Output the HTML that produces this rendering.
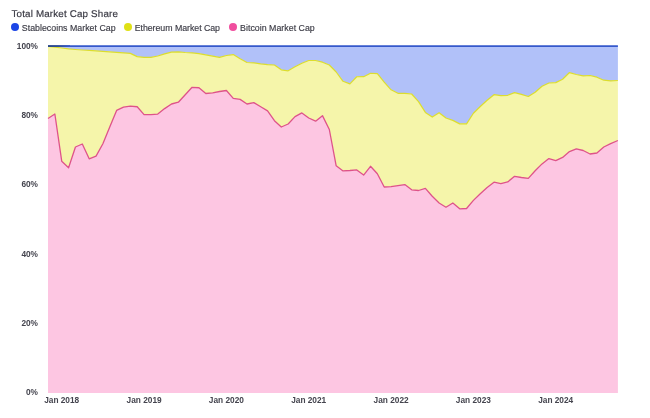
<!DOCTYPE html>
<html><head><meta charset="utf-8"><title>Total Market Cap Share</title>
<style>
html,body{margin:0;padding:0;background:#fff;}
body{width:650px;height:418px;overflow:hidden;position:relative;font-family:"Liberation Sans",sans-serif;}
.title{position:absolute;left:11.5px;top:8px;font-size:9.8px;color:#3a3a44;line-height:13px;white-space:nowrap;text-rendering:geometricPrecision;letter-spacing:0.165px;-webkit-text-stroke:0.18px #3a3a44;}
.legend{position:absolute;left:0;top:22px;height:12px;font-size:8.8px;color:#3a3a44;white-space:nowrap;}
.legend span.item{position:absolute;top:0;line-height:12px;letter-spacing:0.02px;-webkit-text-stroke:0.15px #3a3a44;}
.legend i{position:absolute;top:1.15px;width:8px;height:8px;border-radius:50%;display:block;}
svg{position:absolute;left:0;top:0;}
.ax{font-family:"Liberation Sans",sans-serif;font-weight:bold;font-size:8.3px;fill:#44444e;}
</style></head><body>
<svg width="650" height="418" viewBox="0 0 650 418">
<polygon points="48.00,46.10 54.86,46.10 61.72,46.10 68.58,46.10 75.45,46.10 82.31,46.10 89.17,46.10 96.03,46.10 102.89,46.10 109.75,46.10 116.61,46.10 123.48,46.10 130.34,46.10 137.20,46.10 144.06,46.10 150.92,46.10 157.78,46.10 164.64,46.10 171.51,46.10 178.37,46.10 185.23,46.10 192.09,46.10 198.95,46.10 205.81,46.10 212.67,46.10 219.54,46.10 226.40,46.10 233.26,46.10 240.12,46.10 246.98,46.10 253.84,46.10 260.70,46.10 267.57,46.10 274.43,46.10 281.29,46.10 288.15,46.10 295.01,46.10 301.87,46.10 308.73,46.10 315.60,46.10 322.46,46.10 329.32,46.10 336.18,46.10 343.04,46.10 349.90,46.10 356.77,46.10 363.63,46.10 370.49,46.10 377.35,46.10 384.21,46.10 391.07,46.10 397.93,46.10 404.80,46.10 411.66,46.10 418.52,46.10 425.38,46.10 432.24,46.10 439.10,46.10 445.96,46.10 452.83,46.10 459.69,46.10 466.55,46.10 473.41,46.10 480.27,46.10 487.13,46.10 493.99,46.10 500.86,46.10 507.72,46.10 514.58,46.10 521.44,46.10 528.30,46.10 535.16,46.10 542.02,46.10 548.89,46.10 555.75,46.10 562.61,46.10 569.47,46.10 576.33,46.10 583.19,46.10 590.05,46.10 596.92,46.10 603.78,46.10 610.64,46.10 617.90,46.10 617.90,80.50 610.64,80.90 603.78,80.20 596.92,77.20 590.05,75.50 583.19,75.90 576.33,74.50 569.47,72.55 562.61,79.30 555.75,82.60 548.89,83.00 542.02,86.30 535.16,92.30 528.30,96.50 521.44,94.40 514.58,92.65 507.72,95.30 500.86,95.70 493.99,94.70 487.13,100.30 480.27,106.50 473.41,113.20 466.55,123.85 459.69,123.85 452.83,120.40 445.96,118.00 439.10,112.70 432.24,117.10 425.38,112.40 418.52,101.60 411.66,94.00 404.80,93.30 397.93,93.30 391.07,89.80 384.21,82.20 377.35,73.60 370.49,73.25 363.63,76.70 356.77,76.75 349.90,83.90 343.04,81.30 336.18,72.00 329.32,65.00 322.46,62.20 315.60,60.50 308.73,60.50 301.87,63.30 295.01,66.80 288.15,70.80 281.29,69.80 274.43,65.00 267.57,64.70 260.70,63.90 253.84,62.90 246.98,62.50 240.12,58.70 233.26,54.60 226.40,55.50 219.54,57.30 212.67,56.10 205.81,54.80 198.95,53.60 192.09,52.90 185.23,52.50 178.37,51.90 171.51,52.20 164.64,53.90 157.78,56.00 150.92,57.30 144.06,57.30 137.20,56.60 130.34,53.40 123.48,52.90 116.61,52.30 109.75,51.80 102.89,51.30 96.03,50.80 89.17,50.40 82.31,50.00 75.45,49.50 68.58,48.90 61.72,48.00 54.86,47.20 48.00,46.40" fill="#b1c1f9"/>
<polygon points="48.00,46.40 54.86,47.20 61.72,48.00 68.58,48.90 75.45,49.50 82.31,50.00 89.17,50.40 96.03,50.80 102.89,51.30 109.75,51.80 116.61,52.30 123.48,52.90 130.34,53.40 137.20,56.60 144.06,57.30 150.92,57.30 157.78,56.00 164.64,53.90 171.51,52.20 178.37,51.90 185.23,52.50 192.09,52.90 198.95,53.60 205.81,54.80 212.67,56.10 219.54,57.30 226.40,55.50 233.26,54.60 240.12,58.70 246.98,62.50 253.84,62.90 260.70,63.90 267.57,64.70 274.43,65.00 281.29,69.80 288.15,70.80 295.01,66.80 301.87,63.30 308.73,60.50 315.60,60.50 322.46,62.20 329.32,65.00 336.18,72.00 343.04,81.30 349.90,83.90 356.77,76.75 363.63,76.70 370.49,73.25 377.35,73.60 384.21,82.20 391.07,89.80 397.93,93.30 404.80,93.30 411.66,94.00 418.52,101.60 425.38,112.40 432.24,117.10 439.10,112.70 445.96,118.00 452.83,120.40 459.69,123.85 466.55,123.85 473.41,113.20 480.27,106.50 487.13,100.30 493.99,94.70 500.86,95.70 507.72,95.30 514.58,92.65 521.44,94.40 528.30,96.50 535.16,92.30 542.02,86.30 548.89,83.00 555.75,82.60 562.61,79.30 569.47,72.55 576.33,74.50 583.19,75.90 590.05,75.50 596.92,77.20 603.78,80.20 610.64,80.90 617.90,80.50 617.90,140.50 610.64,143.60 603.78,147.00 596.92,153.00 590.05,154.00 583.19,150.50 576.33,148.80 569.47,151.60 562.61,157.40 555.75,160.70 548.89,158.60 542.02,163.90 535.16,170.80 528.30,178.40 521.44,177.50 514.58,176.35 507.72,181.90 500.86,183.60 493.99,182.20 487.13,187.40 480.27,193.70 473.41,200.40 466.55,208.50 459.69,208.80 452.83,203.00 445.96,207.20 439.10,203.00 432.24,196.30 425.38,188.40 418.52,190.50 411.66,189.80 404.80,184.60 397.93,185.60 391.07,186.70 384.21,187.00 377.35,173.70 370.49,166.30 363.63,175.10 356.77,169.90 349.90,170.50 343.04,170.90 336.18,165.80 329.32,129.50 322.46,115.65 315.60,121.20 308.73,118.00 301.87,112.90 295.01,116.60 288.15,124.00 281.29,127.00 274.43,120.70 267.57,110.90 260.70,106.75 253.84,102.60 246.98,104.00 240.12,99.40 233.26,98.40 226.40,90.50 219.54,91.50 212.67,92.90 205.81,93.50 198.95,87.75 192.09,87.30 185.23,94.70 178.37,102.20 171.51,104.00 164.64,108.60 157.78,114.10 150.92,114.60 144.06,114.70 137.20,106.75 130.34,106.20 123.48,107.20 116.61,110.40 109.75,127.00 102.89,143.80 96.03,156.10 89.17,158.80 82.31,144.00 75.45,147.00 68.58,167.70 61.72,161.20 54.86,114.00 48.00,118.50" fill="#f5f5aa"/>
<polygon points="48.00,118.50 54.86,114.00 61.72,161.20 68.58,167.70 75.45,147.00 82.31,144.00 89.17,158.80 96.03,156.10 102.89,143.80 109.75,127.00 116.61,110.40 123.48,107.20 130.34,106.20 137.20,106.75 144.06,114.70 150.92,114.60 157.78,114.10 164.64,108.60 171.51,104.00 178.37,102.20 185.23,94.70 192.09,87.30 198.95,87.75 205.81,93.50 212.67,92.90 219.54,91.50 226.40,90.50 233.26,98.40 240.12,99.40 246.98,104.00 253.84,102.60 260.70,106.75 267.57,110.90 274.43,120.70 281.29,127.00 288.15,124.00 295.01,116.60 301.87,112.90 308.73,118.00 315.60,121.20 322.46,115.65 329.32,129.50 336.18,165.80 343.04,170.90 349.90,170.50 356.77,169.90 363.63,175.10 370.49,166.30 377.35,173.70 384.21,187.00 391.07,186.70 397.93,185.60 404.80,184.60 411.66,189.80 418.52,190.50 425.38,188.40 432.24,196.30 439.10,203.00 445.96,207.20 452.83,203.00 459.69,208.80 466.55,208.50 473.41,200.40 480.27,193.70 487.13,187.40 493.99,182.20 500.86,183.60 507.72,181.90 514.58,176.35 521.44,177.50 528.30,178.40 535.16,170.80 542.02,163.90 548.89,158.60 555.75,160.70 562.61,157.40 569.47,151.60 576.33,148.80 583.19,150.50 590.05,154.00 596.92,153.00 603.78,147.00 610.64,143.60 617.90,140.50 617.90,392.90 48.00,392.90" fill="#fdc6e2"/>
<polyline points="48.00,46.40 54.86,47.20 61.72,48.00 68.58,48.90 75.45,49.50 82.31,50.00 89.17,50.40 96.03,50.80 102.89,51.30 109.75,51.80 116.61,52.30 123.48,52.90 130.34,53.40 137.20,56.60 144.06,57.30 150.92,57.30 157.78,56.00 164.64,53.90 171.51,52.20 178.37,51.90 185.23,52.50 192.09,52.90 198.95,53.60 205.81,54.80 212.67,56.10 219.54,57.30 226.40,55.50 233.26,54.60 240.12,58.70 246.98,62.50 253.84,62.90 260.70,63.90 267.57,64.70 274.43,65.00 281.29,69.80 288.15,70.80 295.01,66.80 301.87,63.30 308.73,60.50 315.60,60.50 322.46,62.20 329.32,65.00 336.18,72.00 343.04,81.30 349.90,83.90 356.77,76.75 363.63,76.70 370.49,73.25 377.35,73.60 384.21,82.20 391.07,89.80 397.93,93.30 404.80,93.30 411.66,94.00 418.52,101.60 425.38,112.40 432.24,117.10 439.10,112.70 445.96,118.00 452.83,120.40 459.69,123.85 466.55,123.85 473.41,113.20 480.27,106.50 487.13,100.30 493.99,94.70 500.86,95.70 507.72,95.30 514.58,92.65 521.44,94.40 528.30,96.50 535.16,92.30 542.02,86.30 548.89,83.00 555.75,82.60 562.61,79.30 569.47,72.55 576.33,74.50 583.19,75.90 590.05,75.50 596.92,77.20 603.78,80.20 610.64,80.90 617.90,80.50" fill="none" stroke="#dcdd2e" stroke-width="1.2" stroke-linejoin="round"/>
<polyline points="48.00,118.50 54.86,114.00 61.72,161.20 68.58,167.70 75.45,147.00 82.31,144.00 89.17,158.80 96.03,156.10 102.89,143.80 109.75,127.00 116.61,110.40 123.48,107.20 130.34,106.20 137.20,106.75 144.06,114.70 150.92,114.60 157.78,114.10 164.64,108.60 171.51,104.00 178.37,102.20 185.23,94.70 192.09,87.30 198.95,87.75 205.81,93.50 212.67,92.90 219.54,91.50 226.40,90.50 233.26,98.40 240.12,99.40 246.98,104.00 253.84,102.60 260.70,106.75 267.57,110.90 274.43,120.70 281.29,127.00 288.15,124.00 295.01,116.60 301.87,112.90 308.73,118.00 315.60,121.20 322.46,115.65 329.32,129.50 336.18,165.80 343.04,170.90 349.90,170.50 356.77,169.90 363.63,175.10 370.49,166.30 377.35,173.70 384.21,187.00 391.07,186.70 397.93,185.60 404.80,184.60 411.66,189.80 418.52,190.50 425.38,188.40 432.24,196.30 439.10,203.00 445.96,207.20 452.83,203.00 459.69,208.80 466.55,208.50 473.41,200.40 480.27,193.70 487.13,187.40 493.99,182.20 500.86,183.60 507.72,181.90 514.58,176.35 521.44,177.50 528.30,178.40 535.16,170.80 542.02,163.90 548.89,158.60 555.75,160.70 562.61,157.40 569.47,151.60 576.33,148.80 583.19,150.50 590.05,154.00 596.92,153.00 603.78,147.00 610.64,143.60 617.90,140.50" fill="none" stroke="#de5389" stroke-width="1.3" stroke-linejoin="round"/>
<polyline points="48.00,46.10 54.86,46.10 61.72,46.10 68.58,46.10 75.45,46.10 82.31,46.10 89.17,46.10 96.03,46.10 102.89,46.10 109.75,46.10 116.61,46.10 123.48,46.10 130.34,46.10 137.20,46.10 144.06,46.10 150.92,46.10 157.78,46.10 164.64,46.10 171.51,46.10 178.37,46.10 185.23,46.10 192.09,46.10 198.95,46.10 205.81,46.10 212.67,46.10 219.54,46.10 226.40,46.10 233.26,46.10 240.12,46.10 246.98,46.10 253.84,46.10 260.70,46.10 267.57,46.10 274.43,46.10 281.29,46.10 288.15,46.10 295.01,46.10 301.87,46.10 308.73,46.10 315.60,46.10 322.46,46.10 329.32,46.10 336.18,46.10 343.04,46.10 349.90,46.10 356.77,46.10 363.63,46.10 370.49,46.10 377.35,46.10 384.21,46.10 391.07,46.10 397.93,46.10 404.80,46.10 411.66,46.10 418.52,46.10 425.38,46.10 432.24,46.10 439.10,46.10 445.96,46.10 452.83,46.10 459.69,46.10 466.55,46.10 473.41,46.10 480.27,46.10 487.13,46.10 493.99,46.10 500.86,46.10 507.72,46.10 514.58,46.10 521.44,46.10 528.30,46.10 535.16,46.10 542.02,46.10 548.89,46.10 555.75,46.10 562.61,46.10 569.47,46.10 576.33,46.10 583.19,46.10 590.05,46.10 596.92,46.10 603.78,46.10 610.64,46.10 617.90,46.10" fill="none" stroke="#3558cb" stroke-width="1.7"/>
<defs><linearGradient id="g" gradientUnits="userSpaceOnUse" x1="48" y1="0" x2="70" y2="0"><stop offset="0" stop-color="#2b477e"/><stop offset="0.45" stop-color="#2f4c90"/><stop offset="1" stop-color="#3558cb"/></linearGradient></defs><line x1="48.0" y1="46.1" x2="70" y2="46.1" stroke="url(#g)" stroke-width="1.7"/>
<text x="38" y="48.70" text-anchor="end" class="ax">100%</text>
<text x="38" y="118.04" text-anchor="end" class="ax">80%</text>
<text x="38" y="187.38" text-anchor="end" class="ax">60%</text>
<text x="38" y="256.72" text-anchor="end" class="ax">40%</text>
<text x="38" y="326.06" text-anchor="end" class="ax">20%</text>
<text x="38" y="395.40" text-anchor="end" class="ax">0%</text>
<text x="61.7" y="403" text-anchor="middle" class="ax">Jan 2018</text>
<text x="144.1" y="403" text-anchor="middle" class="ax">Jan 2019</text>
<text x="226.4" y="403" text-anchor="middle" class="ax">Jan 2020</text>
<text x="308.7" y="403" text-anchor="middle" class="ax">Jan 2021</text>
<text x="391.1" y="403" text-anchor="middle" class="ax">Jan 2022</text>
<text x="473.4" y="403" text-anchor="middle" class="ax">Jan 2023</text>
<text x="555.7" y="403" text-anchor="middle" class="ax">Jan 2024</text>
</svg>
<div class="title">Total Market Cap Share</div>
<div class="legend">
<i style="left:10.8px;background:#1c46e6"></i><span class="item" style="left:21.8px">Stablecoins Market Cap</span>
<i style="left:123.6px;background:#dfe016"></i><span class="item" style="left:134.7px;letter-spacing:-0.04px">Ethereum Market Cap</span>
<i style="left:228.7px;background:#f04e9e"></i><span class="item" style="left:240.1px">Bitcoin Market Cap</span>
</div>
</body></html>
